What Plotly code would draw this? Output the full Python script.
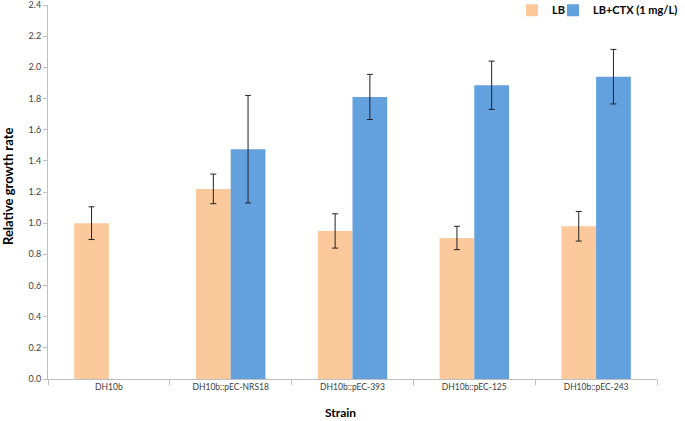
import plotly.graph_objects as go

strains = ["DH10b", "DH10b::pEC-NRS18", "DH10b::pEC-393", "DH10b::pEC-125", "DH10b::pEC-243"]
lb_values = [1.00, 1.22, 0.95, 0.905, 0.98]
lb_errors = [0.105, 0.095, 0.11, 0.075, 0.095]
ctx_values = [None, 1.475, 1.81, 1.885, 1.94]
ctx_errors = [None, 0.345, 0.145, 0.155, 0.175]
y_ticks = [0.0, 0.2, 0.4, 0.6, 0.8, 1.0, 1.2, 1.4, 1.6, 1.8, 2.0, 2.2, 2.4]

FONT = "Lato, 'Open Sans', sans-serif"
LEG_FONT = dict(family=FONT, size=11, color="#000000", weight="bold")

fig = go.Figure()
fig.add_trace(go.Bar(
    name="LB", x=strains, y=lb_values, legend="legend",
    marker=dict(color="#FBC99B", line=dict(width=0)),
    error_y=dict(type="data", array=lb_errors, color="#222222", thickness=1, width=3),
))
fig.add_trace(go.Bar(
    name="LB+CTX (1 mg/L)", x=strains, y=ctx_values, legend="legend2",
    marker=dict(color="#62A0DE", line=dict(width=0)),
    error_y=dict(type="data", array=ctx_errors, color="#222222", thickness=1, width=3),
))

fig.update_layout(
    width=685, height=421,
    margin=dict(l=48, r=28, t=5, b=42, autoexpand=False),
    paper_bgcolor="white", plot_bgcolor="white",
    barmode="group", bargap=0.43, bargroupgap=0,
    font=dict(family=FONT, size=9, color="#404040"),
    showlegend=True,
    legend=dict(orientation="h", x=(512 - 48) / 609, xanchor="left", y=1.025, yanchor="top",
                font=LEG_FONT, itemwidth=30, bgcolor="rgba(0,0,0,0)"),
    legend2=dict(orientation="h", x=(683 - 48) / 609, xanchor="right", y=1.025, yanchor="top",
                 font=LEG_FONT, itemwidth=30, bgcolor="rgba(0,0,0,0)"),
    xaxis=dict(
        showline=True, linecolor="#BFBFBF", linewidth=1,
        ticks="outside", tickson="boundaries", ticklen=5, tickcolor="#BFBFBF",
        tickfont=dict(size=8.5, color="#404040"),
        showgrid=False, automargin=False, ticklabeloverflow="allow",
    ),
    yaxis=dict(
        range=[0, 2.4], tickvals=y_ticks, ticktext=[f"{v:.1f}" for v in y_ticks],
        showline=True, linecolor="#BFBFBF", linewidth=1,
        ticks="outside", ticklen=4, tickcolor="#BFBFBF",
        tickfont=dict(size=9, color="#404040"),
        showgrid=False, zeroline=False, automargin=False, ticklabeloverflow="allow",
    ),
    annotations=[
        dict(text="Relative growth rate", xref="paper", yref="paper",
             x=-40 / 609, y=(379 - 187) / 374, xanchor="center", yanchor="middle",
             textangle=-90, showarrow=False,
             font=dict(family=FONT, size=13, color="#000000", weight="bold")),
        dict(text="Strain", xref="paper", yref="paper",
             x=(340 - 48) / 609, y=-(413 - 379) / 374, xanchor="center", yanchor="middle",
             showarrow=False,
             font=dict(family=FONT, size=12, color="#000000", weight="bold")),
    ],
)
fig.write_html("out.html", config={"displayModeBar": False},
               post_script="document.body.style.margin='0px';")
